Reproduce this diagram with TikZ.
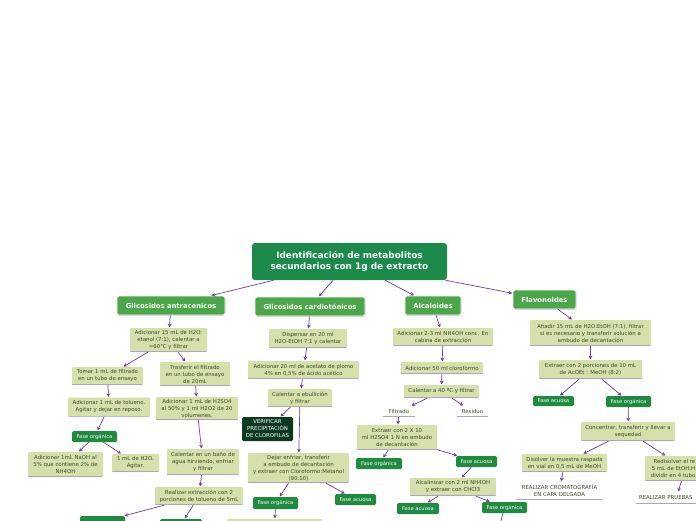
\documentclass[tikz,border=0pt]{standalone}
\usepackage{fontspec}
\setmainfont{DejaVu Sans}
\usetikzlibrary{arrows.meta,shadows}
\definecolor{titlegreen}{HTML}{1B8A4B}
\definecolor{catgreen}{HTML}{4CA64A}
\definecolor{fasegreen}{HTML}{1F8A40}
\definecolor{darkbox}{HTML}{0C3A1E}
\definecolor{lightbox}{HTML}{D6E0AB}
\definecolor{boxtext}{HTML}{3C4A28}
\definecolor{arrowpurple}{HTML}{6E3F8F}
\definecolor{underl}{HTML}{B0A2C4}
\tikzset{
  base/.style={inner sep=0pt, align=center, anchor=center},
  titlebox/.style={base, fill=titlegreen, rounded corners=3pt, text=white,
    font=\fontsize{8.9}{11}\selectfont\bfseries},
  catbox/.style={base, fill=catgreen, draw=white, line width=0.8pt, rounded corners=2pt,
    text=white, font=\fontsize{6.8}{8}\selectfont\bfseries,
    drop shadow={shadow xshift=0.6pt, shadow yshift=-0.8pt, opacity=0.35}},
  bottomline/.style={path picture={\draw[underl, line width=1pt]
    ([yshift=0.5pt]path picture bounding box.south west) --
    ([yshift=0.5pt]path picture bounding box.south east);}},
  lbox/.style={base, fill=lightbox, rounded corners=1pt, text=boxtext,
    font=\fontsize{5.4}{7}\selectfont, bottomline},
  plaintext/.style={base, text=boxtext, font=\fontsize{5.4}{7}\selectfont, bottomline},
  fasebox/.style={base, fill=fasegreen, rounded corners=1.5pt, text=white,
    font=\fontsize{5.2}{6}\selectfont},
  darkbox/.style={base, fill=darkbox, rounded corners=1.5pt, text=white,
    font=\fontsize{5.4}{7}\selectfont},
  arr/.style={draw=arrowpurple, line width=0.7pt, shorten >=0.5pt,
    -{Stealth[length=3.6pt,width=3.8pt]}},
  sz/.style 2 args={minimum width=#1pt, minimum height=#2pt},
}
\begin{document}
\begin{tikzpicture}[x=1pt,y=-1pt]
\useasboundingbox (0,0) rectangle (696,520);
\fill[white] (0,0) rectangle (696,520);
\clip (0,0) rectangle (696,520);

% title
\node[titlebox, sz={195}{37}] (T) at (349.5,261.5)
  {Identificación de metabolitos\\secundarios con 1g de extracto};

% categories
\node[catbox, sz={108}{19}] (GA) at (171,305.5) {Glicosidos antracenicos};
\node[catbox, sz={110}{19}] (GC) at (310,306.5) {Glicosidos cardiotónicos};
\node[catbox, sz={56}{19}] (AL) at (433,305.5) {Alcaloides};
\node[catbox, sz={63}{19}] (FL) at (544.5,299.5) {Flavonoides};

% antracenicos branch
\node[lbox, sz={77}{24}] (A1) at (168.5,340) {Adicionar 15 mL de H2O:\\etanol (7:1), calentar a\\≈60°C y filtrar};
\node[lbox, sz={71}{18}] (A2) at (107.5,376) {Tomar 1 mL de filtrado\\en un tubo de ensayo};
\node[lbox, sz={70}{24}] (A3) at (195,374) {Trasferir el filtrado\\en un tubo de ensayo\\de 20mL};
\node[lbox, sz={82}{19}] (A4) at (109,407) {Adicionar 1 mL de tolueno.\\Agitar y dejar en reposo.};
\node[lbox, sz={82}{23}] (A5) at (197,408.5) {Adicionar 1 mL de H2SO4\\al 50\% y 1 ml H2O2 de 20\\volumenes.};
\node[fasebox, sz={45}{11}] (A6) at (94.5,436.5) {Fase orgánica};
\node[lbox, sz={75}{25}] (A7) at (65.5,464.5) {Adicionar 1mL NaOH al\\5\% que contiene 2\% de\\NH4OH};
\node[lbox, sz={47}{18}] (A8) at (135.5,463) {1 mL de H2O.\\Agitar.};
\node[lbox, sz={72}{26}] (A9) at (203,462) {Calentar en un baño de\\agua hirviendo, enfriar\\y filtrar};
\node[lbox, sz={88}{18}] (A10) at (199,496) {Realizar extracción con 2\\porciones de tolueno de 5mL};
\node[fasebox, sz={45}{11}] (F1) at (102.5,521.5) {};
\node[fasebox, sz={42}{11}] (F2) at (181,524.5) {};

% cardiotonicos branch
\node[lbox, sz={78}{19}] (B1) at (308,338.5) {Dispersar en 20 ml\\H2O-EtOH 7:1 y calentar};
\node[lbox, sz={111}{18}] (B2) at (303.5,370) {Adicionar 20 ml de acetato de plomo\\4\% en 0,5\% de ácido acético};
\node[lbox, sz={64}{18}] (B3) at (300,398) {Calentar a ebullición\\y filtrar};
\node[darkbox, sz={51}{24}] (B4) at (267.5,429) {VERIFICAR\\PRECIPITACIÓN\\DE CLOROFILAS};
\node[lbox, sz={101}{30}] (B5) at (298.5,468) {Dejar enfriar, transferir\\a embudo de decantación\\y extraer con Cloroformo:Metanol\\(90:10)};
\node[fasebox, sz={45}{12}] (B6) at (275.5,503) {Fase orgánica};
\node[fasebox, sz={41}{11}] (B7) at (355.5,499.5) {Fase acuosa};
\node[lbox, sz={95}{22}] (LB) at (274.5,530) {};

% alcaloides branch
\node[lbox, sz={100}{18}] (C1) at (443,337) {Adicionar 2-3 ml NH4OH conc. En\\cabina de extracción};
\node[lbox, sz={82}{12}] (C2) at (442,368) {Adicionar 50 ml cloroformo};
\node[lbox, sz={75}{13}] (C3) at (441.5,391.5) {Calentar a 40 ºC y filtrar};
\node[plaintext, sz={32}{11}] (C4) at (399,411.5) {Filtrado};
\node[plaintext, sz={31}{11}] (C5) at (472.5,411.5) {Residuo};
\node[lbox, sz={80}{25}] (C6) at (397,437.5) {Extraer con 2 X 10\\ml H2SO4 1 N en embudo\\de decantación};
\node[fasebox, sz={46}{11}] (C7) at (379,463.5) {Fase orgánica};
\node[fasebox, sz={41}{11}] (C8) at (476.5,461.5) {Fase acuosa};
\node[lbox, sz={86}{18}] (C9) at (453,487) {Alcalinizar con 2 ml NH4OH\\y extraer con CHCl3};
\node[fasebox, sz={42}{11}] (C10) at (418,508.5) {Fase acuosa};
\node[fasebox, sz={45}{11}] (C11) at (504.5,507.5) {Fase orgánica};
\coordinate (C12) at (498,532);

% flavonoides branch
\node[lbox, sz={121}{26}] (D1) at (590.5,333) {Añadir 15 mL de H2O:EtOH (7:1), filtrar\\si es necesario y transferir solución a\\embudo de decantación};
\node[lbox, sz={103}{19}] (D2) at (590.5,369.5) {Extraer con 2 porciones de 10 mL\\de AcOEt : MeOH (8:2)};
\node[fasebox, sz={41}{10}] (D3) at (553.5,401) {Fase acuosa};
\node[fasebox, sz={45}{11}] (D4) at (628.5,401.5) {Fase orgánica};
\node[lbox, sz={94}{19}] (D5) at (628,431.5) {Concentrar, transferir y llevar a\\sequedad};
\node[lbox, sz={85}{18}] (D6) at (564.5,463) {Disolver la muestra raspada\\en vial en 0,5 mL de MeOH};
\node[lbox, sz={81}{25}] (D7) at (685.5,468.5) {};
\node[base, text=boxtext, font=\fontsize{5.4}{7}\selectfont, align=right, anchor=east]
  (D7t) at (695.5,468.5) {Redisolver el re\\5 mL de EtOH:H\\dividir en 4 tubo};
\node[plaintext, sz={87}{18}] (D8) at (559.5,491) {REALIZAR CROMATOGRAFÍA\\EN CAPA DELGADA};
\node[plaintext, sz={80}{12}, text width=74pt, align=left] (D9) at (676,498) {REALIZAR PRUEBAS};

% connectors
\foreach \a/\b in {T/GA,T/GC,T/AL,T/FL,
  GA/A1,A1/A2,A1/A3,A2/A4,A3/A5,A4/A6,A6/A7,A6/A8,A5/A9,A9/A10,A10/F1,A10/F2,
  GC/B1,B1/B2,B2/B3,B3/B4,B3/B5,B5/B6,B5/B7,B6/LB,
  AL/C1,C1/C2,C2/C3,C3/C4,C3/C5,C4/C6,C6/C7,C6/C8,C8/C9,C9/C10,C9/C11,C11/C12,
  FL/D1,D1/D2,D2/D3,D2/D4,D4/D5,D5/D6,D5/D7,D6/D8,D7/D9}
  \draw[arr] (\a) -- (\b);
\end{tikzpicture}
\end{document}
